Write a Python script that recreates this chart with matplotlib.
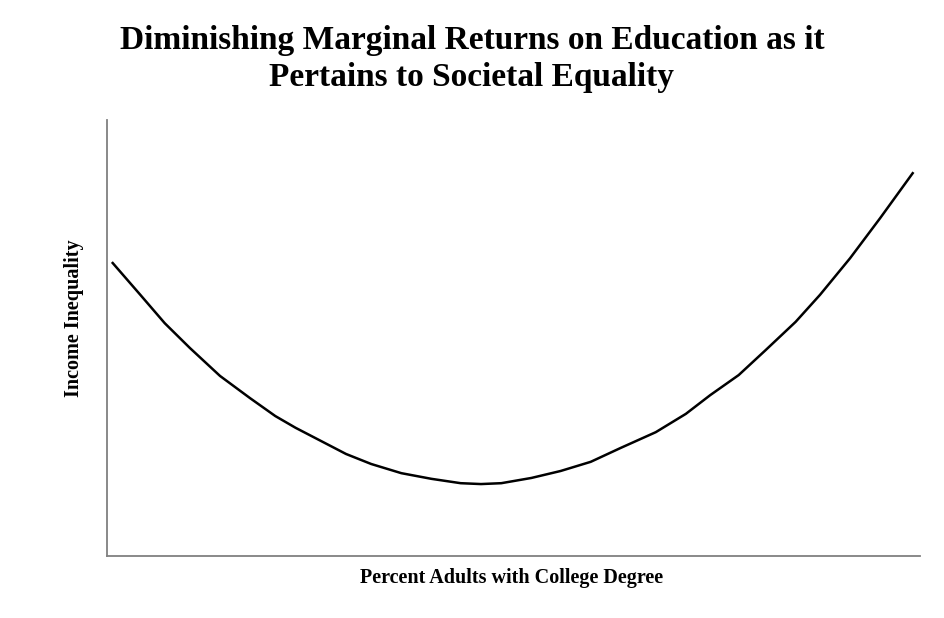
import matplotlib.pyplot as plt
import numpy as np

# curve (axes units 0-100)
pct_college = [0.7, 4.1, 7.1, 10.2, 13.9, 17.6, 20.7, 23.2, 26.3, 29.4, 32.5, 36.2,
               39.9, 43.5, 46.0, 48.5, 52.2, 55.8, 59.5, 63.2, 67.5, 71.2, 74.2,
               77.7, 81.0, 84.7, 87.7, 91.4, 95.1, 99.1]
inequality = [67.2, 59.9, 53.4, 47.7, 41.3, 36.2, 32.1, 29.4, 26.4, 23.4, 21.1, 19.0,
              17.7, 16.7, 16.5, 16.7, 17.9, 19.5, 21.6, 24.8, 28.4, 32.6, 36.9,
              41.5, 47.2, 53.7, 59.9, 68.3, 77.5, 87.8]

plt.rcParams['font.family'] = ['Liberation Serif', 'DejaVu Serif']

fig = plt.figure(figsize=(9.45, 6.18), dpi=100)
ax = fig.add_axes([107 / 945, 1 - 556 / 618, 813 / 945, 436 / 618])

ax.plot(pct_college, inequality, color='black', linewidth=1.8)
ax.set_xlim(0, 100)
ax.set_ylim(0, 100)
ax.set_xticks([])
ax.set_yticks([])
for side in ['top', 'right']:
    ax.spines[side].set_visible(False)
for side in ['left', 'bottom']:
    ax.spines[side].set_color('#808080')
    ax.spines[side].set_linewidth(1.3)

fig.text(472 / 945, 1 - 59 / 618,
         "Diminishing Marginal Returns on Education as it\nPertains to Societal Equality",
         ha='center', va='center', fontsize=24, fontweight='bold', linespacing=1.25)
fig.text(512 / 945, 1 - 578 / 618, "Percent Adults with College Degree",
         ha='center', va='center', fontsize=14.5, fontweight='bold')
fig.text(74 / 945, 1 - 318 / 618, "Income Inequality", rotation=90,
         ha='center', va='center', fontsize=14.5, fontweight='bold')

fig.savefig('out.png', dpi=100)
